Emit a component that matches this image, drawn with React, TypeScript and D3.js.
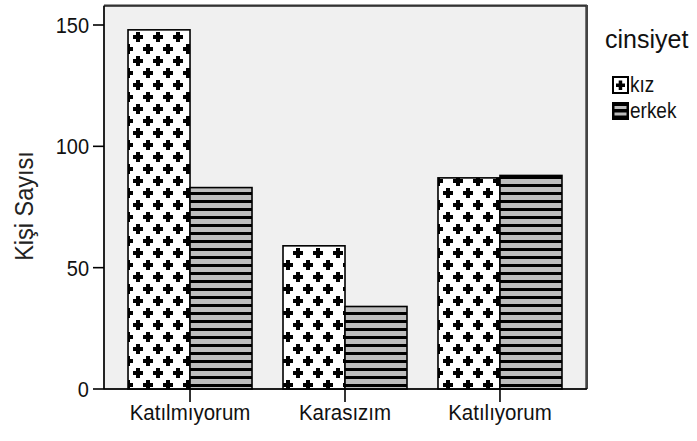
import React from "react";
import * as d3 from "d3";

const categories = ["Katılmıyorum", "Karasızım", "Katılıyorum"];
const seriesNames = ["kız", "erkek"];
const kizValues = [148, 59, 87];
const erkekValues = [83, 34, 88];
const yTicks = [0, 50, 100, 150];
const yTitle = "Kişi Sayısı";
const legendTitle = "cinsiyet";

const W = 697;
const H = 441;
const plot = { left: 104, right: 586, top: 6, bottom: 389 };
const font = "'Liberation Sans', Arial, sans-serif";

function TallText(props: {
  x: number;
  y: number;
  size: number;
  anchor?: string;
  sy?: number;
  children: React.ReactNode;
}) {
  const sy = props.sy ?? 1.12;
  return (
    <text
      transform={`translate(${props.x},${props.y}) scale(1,${sy})`}
      textAnchor={props.anchor ?? "start"}
      fontFamily={font}
      fontSize={props.size}
      fill="#111"
    >
      {props.children}
    </text>
  );
}

export default function App() {
  const x0 = d3
    .scaleBand<string>()
    .domain(categories)
    .range([plot.left, plot.right])
    .paddingInner(0.2)
    .paddingOuter(0.155);
  const x1 = d3
    .scaleBand<string>()
    .domain(seriesNames)
    .range([0, x0.bandwidth()])
    .padding(0);
  const y = d3
    .scaleLinear()
    .domain([0, 150])
    .range([plot.bottom, 25]);

  const series = [
    { name: seriesNames[0], values: kizValues, fill: "url(#plusPat)" },
    { name: seriesNames[1], values: erkekValues, fill: "url(#stripePat)" },
  ];

  return (
    <svg
      width={W}
      height={H}
      style={{ position: "absolute", left: 0, top: 0, background: "#fff" }}
    >
      <defs>
        <pattern id="plusPat" x={128} y={29} width={20} height={24} patternUnits="userSpaceOnUse">
          <rect width={20} height={24} fill="#fff" />
          <g fill="#000">
            <rect x={5} y={6} width={10} height={4} />
            <rect x={8} y={3} width={4} height={10} />
            <rect x={-5} y={18} width={10} height={4} />
            <rect x={-2} y={15} width={4} height={10} />
            <rect x={15} y={18} width={10} height={4} />
            <rect x={18} y={15} width={4} height={10} />
            <rect x={-5} y={-6} width={10} height={4} />
            <rect x={-2} y={-9} width={4} height={10} />
            <rect x={15} y={-6} width={10} height={4} />
            <rect x={18} y={-9} width={4} height={10} />
          </g>
        </pattern>
        <pattern id="stripePat" width={8} height={8} patternUnits="userSpaceOnUse">
          <rect width={8} height={8} fill="#bdbdbd" />
          <rect width={8} height={3} fill="#000" />
        </pattern>
      </defs>

      {/* plot background and frame */}
      <rect
        x={plot.left}
        y={plot.top}
        width={plot.right - plot.left}
        height={plot.bottom - plot.top}
        fill="#f0f0f0"
        stroke="#222"
        strokeWidth={1.2}
      />
      <line x1={plot.left} x2={plot.right + 1} y1={plot.top - 0.5} y2={plot.top - 0.5} stroke="#333" strokeWidth={2} />
      <line x1={plot.right + 1} x2={plot.right + 1} y1={plot.top - 1} y2={plot.bottom} stroke="#444" strokeWidth={2} />

      {/* bars */}
      {categories.map((c, ci) => (
        <g key={c}>
          {series.map((s) => (
            <rect
              key={s.name}
              x={(x0(c) as number) + (x1(s.name) as number)}
              y={y(s.values[ci])}
              width={x1.bandwidth()}
              height={plot.bottom - y(s.values[ci])}
              fill={s.fill}
              stroke="#000"
              strokeWidth={1.6}
            />
          ))}
        </g>
      ))}

      {/* x axis */}
      <line x1={plot.left} x2={plot.right + 1} y1={plot.bottom} y2={plot.bottom} stroke="#000" strokeWidth={1.6} />
      {categories.map((c) => {
        const cx = (x0(c) as number) + x0.bandwidth() / 2;
        return (
          <g key={c}>
            <line x1={cx} x2={cx} y1={plot.bottom} y2={plot.bottom + 13} stroke="#000" strokeWidth={1.6} />
            <TallText x={cx} y={420} size={20.5} anchor="middle">
              {c}
            </TallText>
          </g>
        );
      })}

      {/* y axis */}
      <line x1={plot.left} x2={plot.left} y1={plot.top} y2={plot.bottom} stroke="#000" strokeWidth={1.4} />
      {yTicks.map((t) => (
        <g key={t}>
          <line x1={plot.left - 11} x2={plot.left} y1={y(t)} y2={y(t)} stroke="#000" strokeWidth={1.6} />
          <TallText x={plot.left - 15} y={y(t) + 8} size={20} anchor="end">
            {t}
          </TallText>
        </g>
      ))}
      <text
        transform={`translate(33,206) rotate(-90) scale(1,1.1)`}
        textAnchor="middle"
        fontFamily={font}
        fontSize={23.5}
        fill="#222"
      >
        {yTitle}
      </text>

      {/* legend */}
      <TallText x={605} y={48} size={25} sy={1.05}>
        {legendTitle}
      </TallText>
      <g>
        <rect x={613} y={77} width={15} height={16} fill="#fff" stroke="#000" strokeWidth={2} />
        <rect x={616} y={83.5} width={9} height={3.5} fill="#000" />
        <rect x={618.7} y={80.5} width={3.5} height={9.5} fill="#000" />
        <TallText x={630} y={92} size={19}>
          {seriesNames[0]}
        </TallText>
      </g>
      <g>
        <rect x={612} y={102} width={17} height={18} fill="#000" />
        <rect x={614.5} y={106} width={12} height={3} fill="#bdbdbd" />
        <rect x={614.5} y={112.5} width={12} height={3} fill="#bdbdbd" />
        <TallText x={630} y={118} size={19}>
          {seriesNames[1]}
        </TallText>
      </g>
    </svg>
  );
}
